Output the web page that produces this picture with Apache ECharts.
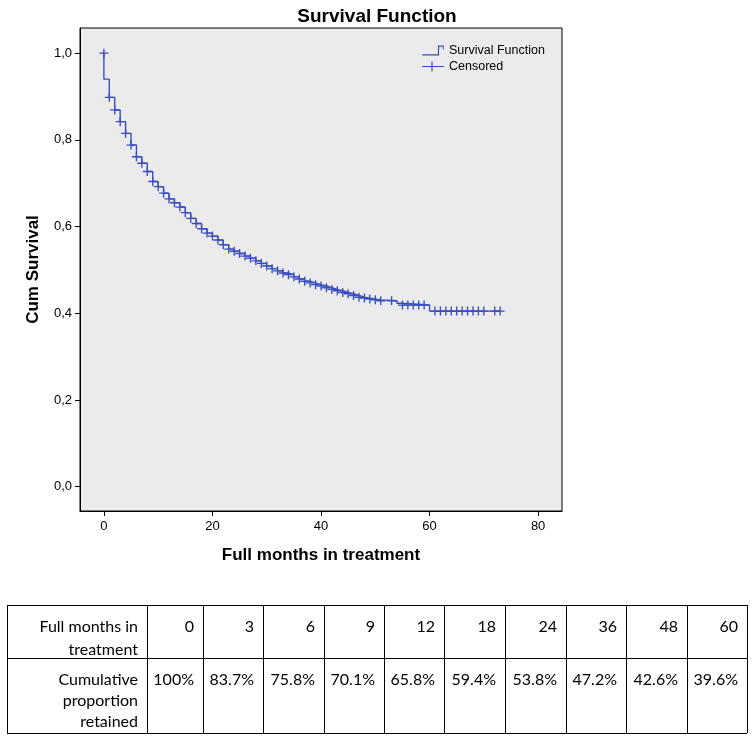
<!DOCTYPE html>
<html><head><meta charset="utf-8">
<script src="https://cdn.jsdelivr.net/npm/echarts@6/dist/echarts.min.js"></script>
<style>html,body{margin:0;padding:0;background:#fff}#c{width:754px;height:740px}</style>
</head><body><div id="c"></div>
<script>
// Kaplan-Meier step curve (month of drop, survival after drop)
const stepMonths = [0,0,1,2,3,4,5,6,7,8,9,10,11,12,13,14,15,16,17,18,19,20,21,22,23,24,25,26,27,28,29,30,31,32,33,34,35,36,37,38,39,40,41,42,43,44,45,46,47,48,49,50,51,54,55,60,73];
const stepSurvival = [1.000,0.940,0.898,0.869,0.842,0.815,0.788,0.761,0.746,0.727,0.704,0.692,0.677,0.664,0.655,0.645,0.632,0.619,0.607,0.595,0.585,0.578,0.569,0.558,0.548,0.543,0.538,0.532,0.527,0.521,0.515,0.509,0.503,0.498,0.493,0.489,0.484,0.479,0.474,0.470,0.466,0.463,0.459,0.455,0.452,0.448,0.445,0.441,0.437,0.435,0.433,0.431,0.429,0.423,0.419,0.405,0.405];
// Censored marks
const censorMonths = [0,1,2,3,4,5,6,7,8,9,10,11,12,13,14,15,16,17,18,19,20,21,22,23,24,25,26,27,28,29,30,31,32,33,34,35,36,37,38,39,40,41,42,43,44,45,46,47,48,49,50,51,53,55,56,57,58,59,61,62,63,64,65,66,67,68,69,70,72,73];
const censorSurvival = [1.000,0.898,0.869,0.842,0.815,0.788,0.761,0.746,0.727,0.704,0.692,0.677,0.664,0.655,0.645,0.632,0.619,0.607,0.595,0.585,0.578,0.569,0.558,0.548,0.543,0.538,0.532,0.527,0.521,0.515,0.509,0.503,0.498,0.493,0.489,0.484,0.479,0.474,0.470,0.466,0.463,0.459,0.455,0.452,0.448,0.445,0.441,0.437,0.435,0.433,0.431,0.429,0.429,0.419,0.419,0.419,0.419,0.419,0.405,0.405,0.405,0.405,0.405,0.405,0.405,0.405,0.405,0.405,0.405,0.405];
const xTicks = [0,20,40,60,80];
const yTicks = [0,0.2,0.4,0.6,0.8,1.0];
// Table
const tableMonths = ['0','3','6','9','12','18','24','36','48','60'];
const tableRetained = ['100%','83.7%','75.8%','70.1%','65.8%','59.4%','53.8%','47.2%','42.6%','39.6%'];
const rowLabels = [['Full months in','treatment'],['Cumulative','proportion','retained']];

const BLUE = '#3A4DBE';
const AX = 'Liberation Sans, Arial, sans-serif';

// table geometry
const colEdges = [7,147,203,263,324,384,444,505,566,626,687,747];
const rowEdges = [605,658,733];
const firstLineY = [627,680];
const lineH = [22.5,21];
const pad = 9;
const TF = '16px Lato';
const graphics = [];
rowEdges.forEach(y => graphics.push({type:'line', shape:{x1:colEdges[0],y1:y+0.5,x2:colEdges[colEdges.length-1],y2:y+0.5}, style:{stroke:'#000',lineWidth:1}}));
colEdges.forEach(x => graphics.push({type:'line', shape:{x1:x+0.5,y1:rowEdges[0],x2:x+0.5,y2:rowEdges[2]}, style:{stroke:'#000',lineWidth:1}}));
rowLabels.forEach((lines, r) => {
  lines.forEach((t, k) => graphics.push({type:'text', style:{text:t, x:colEdges[1]-pad, y:firstLineY[r]+k*lineH[r], fill:'#000', font:TF, align:'right', verticalAlign:'middle'}}));
});
[tableMonths, tableRetained].forEach((row, r) => {
  row.forEach((t, i) => graphics.push({type:'text', style:{text:t, x:colEdges[i+2]-pad, y:firstLineY[r], fill:'#000', font:TF, align:'right', verticalAlign:'middle'}}));
});

const chart = echarts.init(document.getElementById('c'), null, {renderer:'canvas'});
chart.setOption({
  animation:false,
  backgroundColor:'#fff',
  title:{text:'Survival Function', left:'center', top:2, textStyle:{fontFamily:AX, fontSize:19, fontWeight:'bold', color:'#000'}},
  legend:{
    orient:'vertical', left:422, top:44, itemWidth:22, itemHeight:10, itemGap:3, padding:0, selectedMode:false,
    textStyle:{fontFamily:AX, fontSize:12.5, color:'#000'},
    data:[
      {name:'Survival Function', icon:'path://M0,9L16,9L16,0L22,0L22,4L21,4L21,1.2L17.2,1.2L17.2,10.2L0,10.2Z', itemStyle:{color:BLUE, borderWidth:0}},
      {name:'Censored', icon:'path://M0,4.4L9.4,4.4L9.4,0L10.6,0L10.6,4.4L22,4.4L22,5.6L10.6,5.6L10.6,10L9.4,10L9.4,5.6L0,5.6Z', itemStyle:{color:BLUE, borderWidth:0}}
    ]
  },
  grid:{left:80, top:28, width:482, height:483, show:true, backgroundColor:'#EBEBEB', borderColor:'#000', borderWidth:1},
  xAxis:{
    type:'value', min:-4.4, max:84.4,
    name:'Full months in treatment', nameLocation:'middle', nameGap:36,
    nameTextStyle:{fontFamily:AX, fontSize:17, fontWeight:'bold', color:'#000'},
    axisLine:{show:true, onZero:false, lineStyle:{color:'#000', width:1}},
    axisTick:{show:true, length:5, customValues:xTicks, lineStyle:{color:'#000'}},
    axisLabel:{customValues:xTicks, color:'#000', fontSize:13, fontFamily:AX, margin:9},
    splitLine:{show:false}
  },
  yAxis:{
    type:'value', min:-0.056, max:1.058,
    name:'Cum Survival', nameLocation:'middle', nameGap:38,
    nameTextStyle:{fontFamily:AX, fontSize:17, fontWeight:'bold', color:'#000'},
    axisLine:{show:true, onZero:false, lineStyle:{color:'#000', width:1}},
    axisTick:{show:true, length:5, customValues:yTicks, lineStyle:{color:'#000'}},
    axisLabel:{customValues:yTicks, color:'#000', fontSize:13, fontFamily:AX, margin:8, formatter:v => v.toFixed(1).replace('.', ',')},
    splitLine:{show:false}
  },
  series:[
    {name:'Survival Function', type:'line', step:'end', symbol:'none', data:stepMonths.map((m,i)=>[m, stepSurvival[i]]), lineStyle:{color:BLUE, width:1.4}, itemStyle:{color:BLUE}, silent:true},
    {name:'Censored', type:'scatter', symbol:'path://M4,0H5.4V4H9.4V5.4H5.4V9.4H4V5.4H0V4H4Z', symbolSize:9, data:censorMonths.map((m,i)=>[m, censorSurvival[i]]), itemStyle:{color:BLUE, opacity:1}, silent:true}
  ],
  graphic:graphics
});
</script>
</body></html>
